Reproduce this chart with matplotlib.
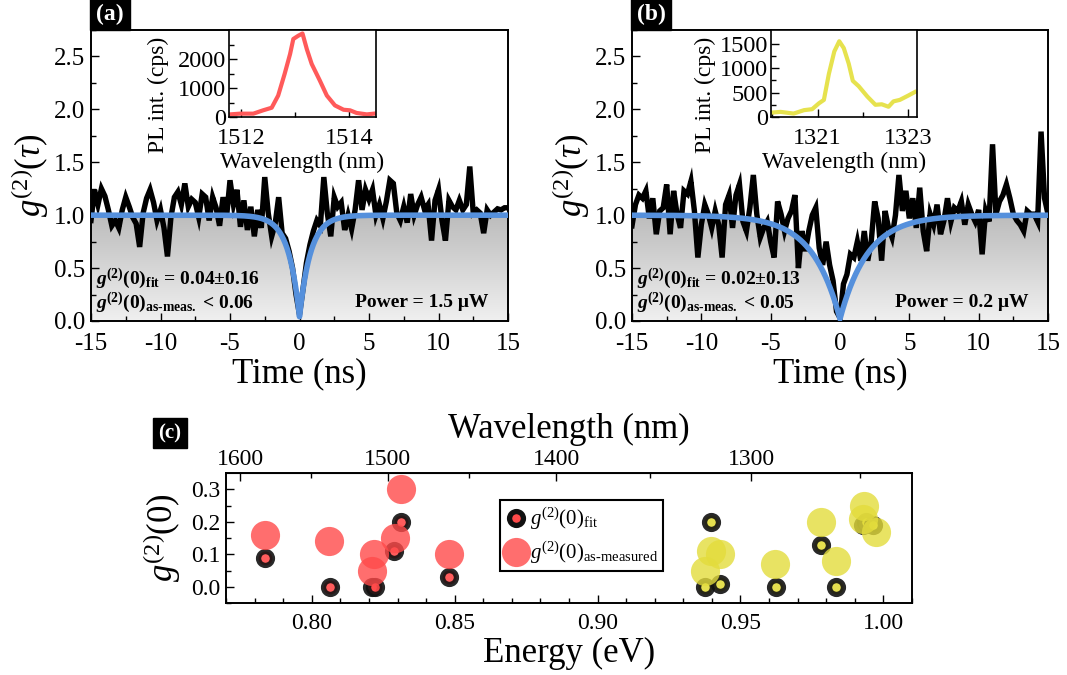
import numpy as np
import matplotlib
matplotlib.use('Agg')
import matplotlib.pyplot as plt
from matplotlib.ticker import MultipleLocator, FixedLocator, FormatStrFormatter
from matplotlib.colors import LinearSegmentedColormap
from matplotlib.lines import Line2D

plt.rcParams['font.family'] = ['Liberation Serif', 'DejaVu Serif']
plt.rcParams['mathtext.fontset'] = 'custom'
plt.rcParams['mathtext.rm'] = 'Liberation Serif'
plt.rcParams['mathtext.it'] = 'Liberation Serif:italic'
plt.rcParams['mathtext.bf'] = 'Liberation Serif:bold'
plt.rcParams['mathtext.bfit'] = 'Liberation Serif:italic:bold'
plt.rcParams['axes.unicode_minus'] = False
plt.rcParams['xtick.direction'] = 'in'
plt.rcParams['ytick.direction'] = 'in'

# ---------------- data ----------------
tau = np.linspace(-15, 15, 121)  # time bins (ns)

g2_a = [0.95, 1.24, 1.10, 1.25, 1.18, 1.05, 0.90, 0.95, 0.88, 1.05,
        1.17, 1.08, 0.98, 0.92, 0.70, 1.02, 1.16, 1.24, 1.12, 0.95,
        1.05, 0.88, 0.61, 0.98, 1.17, 1.22, 1.10, 1.30, 1.08, 1.15,
        1.12, 0.98, 1.20, 1.17, 0.95, 1.17, 1.07, 0.90, 1.17, 0.98,
        1.33, 1.10, 1.24, 0.89, 1.14, 0.86, 1.08, 0.80, 1.05, 0.88,
        1.36, 1.02, 0.80, 0.92, 1.17, 0.83, 0.78, 0.66, 0.50, 0.25,
        0.06, 0.30, 0.55, 0.72, 0.85, 0.95, 0.90, 1.36, 1.02, 0.80,
        1.17, 1.08, 1.12, 0.86, 1.00, 0.87, 1.05, 1.33, 1.05, 1.24,
        1.15, 1.24, 1.00, 1.10, 0.97, 1.13, 1.33, 1.30, 1.02, 0.95,
        1.08, 0.93, 1.20, 1.00, 1.10, 1.17, 1.05, 1.10, 0.76, 1.14,
        1.24, 0.95, 0.76, 1.14, 1.08, 1.05, 1.14, 1.05, 1.10, 1.46,
        1.02, 1.05, 1.02, 0.83, 1.05, 1.00, 1.03, 1.06, 1.05, 1.07,
        1.07]

g2_b = [0.90, 1.10, 1.19, 1.16, 1.23, 0.97, 1.16, 0.82, 1.04, 1.07,
        1.29, 0.82, 1.23, 1.01, 0.88, 1.23, 1.20, 1.32, 1.04, 0.60,
        0.91, 1.10, 1.01, 0.88, 1.04, 0.91, 0.60, 1.10, 1.19, 0.88,
        1.19, 1.29, 0.94, 0.85, 1.07, 1.38, 1.01, 0.79, 0.88, 0.94,
        0.75, 0.60, 1.13, 1.01, 0.85, 0.97, 1.04, 1.19, 0.50, 0.85,
        0.66, 0.85, 1.00, 1.07, 0.69, 0.53, 0.75, 0.53, 0.38, 0.09,
        0.03, 0.35, 0.44, 0.63, 0.60, 0.75, 0.57, 0.85, 0.57, 0.75,
        1.13, 0.97, 0.57, 1.04, 0.88, 0.79, 1.00, 1.38, 1.04, 1.23,
        0.97, 1.16, 0.88, 1.26, 0.85, 0.66, 1.01, 0.91, 1.10, 0.82,
        0.95, 1.16, 0.94, 1.07, 1.04, 1.13, 0.91, 1.10, 1.01, 0.94,
        1.05, 0.63, 1.04, 0.94, 1.67, 1.01, 1.13, 1.19, 1.29, 1.16,
        1.01, 0.95, 0.91, 0.85, 1.04, 1.01, 1.01, 0.94, 1.79, 1.16,
        1.01]

# fit parameters  g(t) = 1 - (1 - g0) exp(-|t|/t0)
g0_a, t0_a = 0.04, 0.8
g0_b, t0_b = 0.02, 2.0

# inset spectra
wl_a = [1511.80, 1511.98, 1512.23, 1512.41, 1512.57, 1512.69, 1512.81, 1512.91,
        1512.97, 1513.06, 1513.14, 1513.22, 1513.31, 1513.46, 1513.59, 1513.74,
        1513.90, 1514.02, 1514.14, 1514.33, 1514.46]
pl_a = [90, 115, 115, 230, 320, 740, 1490, 2170, 2690, 2800, 2880, 2340, 1830,
        1260, 740, 400, 250, 230, 140, 90, 115]
wl_b = [1319.99, 1320.18, 1320.47, 1320.70, 1320.88, 1321.03, 1321.14, 1321.25,
        1321.37, 1321.48, 1321.58, 1321.69, 1321.78, 1321.91, 1322.10, 1322.28,
        1322.42, 1322.57, 1322.68, 1322.82, 1323.01, 1323.15]
pl_b = [90, 105, 70, 140, 160, 280, 350, 880, 1340, 1550, 1410, 1090, 740, 630,
        420, 250, 260, 210, 320, 350, 440, 510]

# panel (c)
red_E_meas = [0.7836, 0.8061, 0.8218, 0.8210, 0.8290, 0.8312, 0.8480]
red_g_meas = [0.16, 0.14, 0.10, 0.05, 0.15, 0.30, 0.10]
red_E_fit = [0.7836, 0.8063, 0.8210, 0.8220, 0.8289, 0.8312, 0.8480]
red_g_fit = [0.09, 0.00, 0.00, 0.00, 0.11, 0.20, 0.03]
yel_E_meas = [0.9396, 0.9427, 0.9377, 0.9622, 0.9780, 0.9833, 0.9932, 0.9928, 0.9973]
yel_g_meas = [0.11, 0.10, 0.05, 0.07, 0.20, 0.08, 0.25, 0.21, 0.17]
yel_E_fit = [0.9396, 0.9377, 0.9427, 0.9623, 0.9780, 0.9835, 0.9928, 0.9940, 0.9963]
yel_g_fit = [0.20, 0.00, 0.01, 0.00, 0.13, 0.00, 0.19, 0.20, 0.19]

RED = '#FF4A4A'
YEL = '#E3DC3C'
BLUE = '#5590DC'

W, H = 1067, 675
fig = plt.figure(figsize=(W / 100, H / 100), dpi=100)


def rect(l, r, t, b):
    return [l / W, 1 - b / H, (r - l) / W, (b - t) / H]


cmap = LinearSegmentedColormap.from_list('g', ['#f0f0f0', '#bcbcbc'])


def g2_panel(pos, data, g0, t0, txt_fit, txt_meas, power):
    ax = fig.add_axes(pos)
    tt = np.linspace(-15, 15, 1201)
    fit = 1 - (1 - g0) * np.exp(-np.abs(tt) / t0)
    poly = ax.fill_between(tt, 0, fit, color='none', lw=0)
    img = ax.imshow(np.linspace(0, 1, 256).reshape(-1, 1), cmap=cmap,
                    extent=[-15, 15, 0, 1], origin='lower', aspect='auto', zorder=0.5)
    img.set_clip_path(poly.get_paths()[0], transform=ax.transData)
    ax.plot(tau, data, color='black', lw=3.9, zorder=2, solid_joinstyle='miter')
    ax.plot(tt, fit, color=BLUE, lw=4, zorder=3)
    ax.set_xlim(-15, 15)
    ax.set_ylim(0, 2.75)
    ax.xaxis.set_major_locator(MultipleLocator(5))
    ax.xaxis.set_minor_locator(MultipleLocator(2.5))
    ax.yaxis.set_major_locator(MultipleLocator(0.5))
    ax.yaxis.set_minor_locator(MultipleLocator(0.25))
    ax.yaxis.set_major_formatter(FormatStrFormatter('%.1f'))
    ax.tick_params(labelsize=18, length=6, width=1.0)
    ax.tick_params(axis='x', pad=9)
    ax.tick_params(axis='y', pad=4)
    ax.tick_params(which='minor', length=3.5, width=1.0)
    for s in ax.spines.values():
        s.set_linewidth(1.4)
    ax.set_xlabel('Time (ns)', fontsize=25, labelpad=1)
    ax.set_ylabel(r'$g^{(2)}(\tau)$', fontsize=25, labelpad=2)
    ax.text(0.012, 0.145, txt_fit, transform=ax.transAxes, fontsize=14,
            fontweight='bold', va='center', ha='left', zorder=5)
    ax.text(0.012, 0.062, txt_meas, transform=ax.transAxes, fontsize=14,
            fontweight='bold', va='center', ha='left', zorder=5)
    ax.text(0.952, 0.062, power, transform=ax.transAxes, fontsize=14,
            fontweight='bold', va='center', ha='right', zorder=5)
    return ax


def inset(pos, wl, pl, color, xlim, ylim, xt, xmin, yt, ymin, ylab_x):
    ax = fig.add_axes(pos)
    ax.plot(wl, pl, color=color, lw=3)
    ax.set_xlim(*xlim)
    ax.set_ylim(*ylim)
    ax.set_xticks(xt)
    ax.xaxis.set_minor_locator(FixedLocator(xmin))
    ax.set_yticks(yt)
    ax.yaxis.set_minor_locator(FixedLocator(ymin))
    ax.tick_params(labelsize=17.5, length=6, width=1.0)
    ax.tick_params(axis='x', pad=8)
    ax.tick_params(axis='y', pad=2)
    ax.tick_params(which='minor', length=3.5, width=1.0)
    for s in ax.spines.values():
        s.set_linewidth(1.2)
    ax.set_xlabel('Wavelength (nm)', fontsize=17, labelpad=2)
    ax.set_ylabel('PL int. (cps)', fontsize=17)
    ax.yaxis.set_label_coords(ylab_x, 0.25)
    return ax


axa = g2_panel(rect(91, 508, 30, 321), g2_a, g0_a, t0_a,
               r'$\boldsymbol{g}^{\mathbf{(2)}}\mathbf{(0)}_{\mathbf{fit}}$ = 0.04±0.16',
               r'$\boldsymbol{g}^{\mathbf{(2)}}\mathbf{(0)}_{\mathbf{as\text{-}meas.}}$ < 0.06',
               'Power = 1.5 μW')
axb = g2_panel(rect(632, 1048, 30, 321), g2_b, g0_b, t0_b,
               r'$\boldsymbol{g}^{\mathbf{(2)}}\mathbf{(0)}_{\mathbf{fit}}$ = 0.02±0.13',
               r'$\boldsymbol{g}^{\mathbf{(2)}}\mathbf{(0)}_{\mathbf{as\text{-}meas.}}$ < 0.05',
               'Power = 0.2 μW')

inset(rect(229, 376, 30, 117), wl_a, pl_a, '#FF5A5A', (1511.78, 1514.5), (0, 3000),
      [1512, 1514], [1513], [0, 1000, 2000], [500, 1500, 2500], -0.41)
inset(rect(771, 917, 30, 117), wl_b, pl_b, '#E6E24E', (1319.97, 1323.2), (0, 1780),
      [1321, 1323], [1320, 1322], [0, 500, 1000, 1500], [250, 750, 1250], -0.38)

# panel labels
for x, lab in [(110 / W, '(a)'), (651 / W, '(b)')]:
    fig.text(x, 1 - 14 / H, lab, color='white', fontsize=17, fontweight='bold',
             ha='center', va='center',
             bbox=dict(facecolor='black', edgecolor='black', boxstyle='square,pad=0.25'))
fig.text(170 / W, 1 - 433 / H, '(c)', color='white', fontsize=15, fontweight='bold',
         ha='center', va='center',
         bbox=dict(facecolor='black', edgecolor='black', boxstyle='square,pad=0.25'))

# ---------------- panel (c) ----------------
axc = fig.add_axes(rect(226, 912, 473, 603))
ms_fit, mew_fit, s_meas = 10, 3.8, 21 ** 2
axc.plot(red_E_fit, red_g_fit, 'o', ls='', ms=ms_fit, mew=mew_fit, mfc=RED, mec='#111111', alpha=0.9, zorder=2)
axc.plot(yel_E_fit, yel_g_fit, 'o', ls='', ms=ms_fit, mew=mew_fit, mfc=YEL, mec='#111111', alpha=0.9, zorder=2)
axc.scatter(red_E_meas, red_g_meas, s=s_meas, color=RED, alpha=0.8, lw=0, zorder=3)
axc.scatter(yel_E_meas, yel_g_meas, s=s_meas, color=YEL, alpha=0.8, lw=0, zorder=3)
axc.set_xlim(0.77, 1.01)
axc.set_ylim(-0.05, 0.35)
axc.xaxis.set_major_locator(FixedLocator([0.80, 0.85, 0.90, 0.95, 1.00]))
axc.xaxis.set_minor_locator(MultipleLocator(0.01))
axc.xaxis.set_major_formatter(FormatStrFormatter('%.2f'))
axc.yaxis.set_major_locator(FixedLocator([0.0, 0.1, 0.2, 0.3]))
axc.yaxis.set_minor_locator(FixedLocator([-0.05, 0.05, 0.15, 0.25]))
axc.yaxis.set_major_formatter(FormatStrFormatter('%.1f'))
axc.tick_params(labelsize=17, length=6, width=1.0)
axc.tick_params(axis='x', pad=7)
axc.tick_params(axis='y', pad=4)
axc.tick_params(which='minor', length=3.5, width=1.0)
for s in axc.spines.values():
    s.set_linewidth(1.4)
axc.set_xlabel('Energy (eV)', fontsize=25, labelpad=2)
axc.set_ylabel(r'$g^{(2)}(0)$', fontsize=25, labelpad=6)


def e2l(x):
    x = np.asarray(x, dtype=float)
    with np.errstate(divide='ignore', invalid='ignore'):
        return 1239.84 / x


sec = axc.secondary_xaxis('top', functions=(e2l, e2l))
sec.set_xticks([1600, 1500, 1400, 1300])
sec.xaxis.set_minor_locator(FixedLocator([1550, 1450, 1350, 1250]))
sec.tick_params(labelsize=17, length=6, width=1.0, pad=2)
sec.tick_params(which='minor', length=3.5, width=1.0)
sec.set_xlabel('Wavelength (nm)', fontsize=25, labelpad=8)

h_fit = Line2D([], [], marker='o', ls='', ms=ms_fit, mew=mew_fit, mfc=RED, mec='#111111')
h_meas = Line2D([], [], marker='o', ls='', ms=21, mfc=RED, mec='none', alpha=0.8)
leg = axc.legend([h_fit, h_meas],
                 [r'$g^{(2)}(0)_{\mathrm{fit}}$', r'$g^{(2)}(0)_{\mathrm{as\text{-}measured}}$'],
                 loc='upper left', bbox_to_anchor=(0.399, 0.79), fontsize=15,
                 frameon=True, fancybox=False, framealpha=1, edgecolor='black',
                 borderpad=0.25, handletextpad=0.1, labelspacing=0.35, borderaxespad=0,
                 handlelength=1.1)
leg.get_frame().set_linewidth(1.5)

fig.savefig('out.png', dpi=100)
